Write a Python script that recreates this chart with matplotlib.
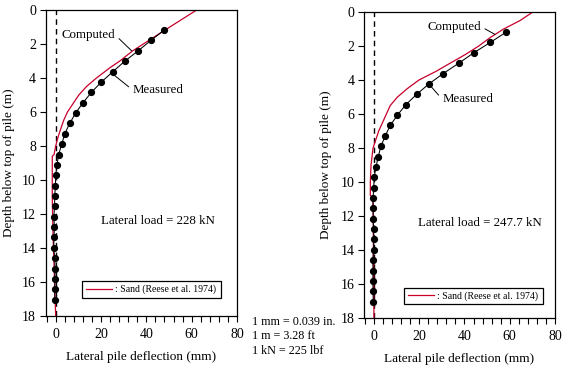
import matplotlib
matplotlib.use("Agg")
import matplotlib.pyplot as plt
from matplotlib.lines import Line2D
from matplotlib.ticker import MultipleLocator

plt.rcParams['font.family'] = ['Liberation Serif', 'DejaVu Serif']

# ---------------- data ----------------
depth_meas = [1.18, 1.79, 2.40, 3.01, 3.62, 4.23, 4.84, 5.45, 6.06, 6.67, 7.28, 7.89, 8.50,
              9.11, 9.72, 10.33, 10.94, 11.55, 12.16, 12.77, 13.38, 13.99, 14.60, 15.21,
              15.82, 16.43, 17.04]
meas_left = [47.9, 42.0, 36.4, 30.5, 25.3, 20.2, 15.8, 12.1, 8.8, 6.2, 4.0, 2.7, 1.3, 0.6,
             0.0, -0.1, -0.4, -0.5, -0.8, -0.6, -0.7, -0.9, -0.4, -0.3, -0.3, -0.4, -0.4]
meas_right = [58.5, 51.4, 44.1, 37.5, 30.6, 24.3, 18.9, 14.1, 10.4, 7.2, 5.0, 3.1, 1.9, 0.9,
              0.1, -0.1, -0.4, -0.4, -0.3, -0.2, 0.0, -0.2, -0.5, -0.4, -0.5, -0.4, -0.3]

depth_comp_left = [0, 1.2, 2.4, 3.0, 3.4, 4.0, 4.5, 5.0, 5.5, 6.0, 6.5, 7.0, 7.5, 8.0, 8.5,
                   8.6, 11.0, 13.0, 15.5, 18.0]
comp_left = [62.2, 48.0, 34.0, 28.3, 23.9, 18.0, 13.6, 10.2, 7.7, 5.2, 3.5, 2.2, 1.0, 0.0,
             -0.7, -1.5, -1.5, -1.2, -0.6, 0.0]
depth_comp_right = [0, 0.5, 1.0, 1.5, 2.0, 2.5, 3.0, 3.5, 4.0, 4.5, 5.0, 5.5, 6.0, 7.0, 8.0,
                    9.0, 10.0, 10.8, 10.9, 18.0]
comp_right = [70.2, 64.6, 57.3, 51.4, 46.3, 40.4, 33.8, 27.3, 19.9, 14.8, 10.4, 7.2, 5.5, 2.1,
              -0.4, -1.3, -1.6, -1.6, -0.4, 0.0]

load_labels = ["Lateral load = 228 kN", "Lateral load = 247.7 kN"]
legend_label = ": Sand (Reese et al. 1974)"
xlabel = "Lateral pile deflection (mm)"
ylabel = "Depth below top of pile (m)"
units_text = ["1 mm = 0.039 in.", "1 m = 3.28 ft", "1 kN = 225 lbf"]

RED = '#c8002a'
W, H = 569, 372

fig = plt.figure(figsize=(W / 100, H / 100), dpi=100)


def fx(px):
    return px / W


def fy(py):
    return 1 - py / H


def make_axes(x0, x1, y0, y1):
    return fig.add_axes([fx(x0), fy(y1), fx(x1) - fx(x0), fy(y0) - fy(y1)])


axL = make_axes(45.7, 237, 10, 316)
axR = make_axes(364, 555, 12, 318)

panels = [
    (axL, meas_left, depth_comp_left, comp_left, load_labels[0],
     dict(comp_text=(2.6, 1.47), comp_xy=(33.5, 2.4),
          meas_text=(33.9, 4.7), meas_xy=(26.0, 3.85),
          load_xy=(45.0, 12.4), leg=(0.191, 0.06, 0.724, 0.06))),
    (axR, meas_right, depth_comp_right, comp_right, load_labels[1],
     dict(comp_text=(23.6, 0.86), comp_xy=(53.5, 1.32),
          meas_text=(30.2, 5.14), meas_xy=(24.3, 4.24),
          load_xy=(47.0, 12.4), leg=(0.21, 0.045, 0.726, 0.06))),
]

for ax, meas, dc, comp, load, p in panels:
    ax.set_xlim(-4.4, 80)
    ax.set_ylim(18, 0)
    ax.axvline(0, color='black', lw=1.0, ls=(0, (4, 3)), zorder=1)
    ax.plot(comp, dc, color=RED, lw=0.9, zorder=2)
    ax.plot(meas, depth_meas, color='black', lw=0.75, marker='o', ms=4.2,
            mfc='black', mec='black', zorder=3)

    ax.xaxis.set_major_locator(MultipleLocator(20))
    ax.xaxis.set_minor_locator(MultipleLocator(4))
    ax.yaxis.set_major_locator(MultipleLocator(2))
    ax.set_xticks([0, 20, 40, 60, 80])
    ax.tick_params(axis='both', which='both', direction='out', length=4, width=0.8,
                   colors='black', labelsize=10)
    ax.tick_params(axis='x', which='major', pad=5)
    ax.tick_params(axis='y', which='major', pad=3)
    for s in ax.spines.values():
        s.set_linewidth(0.9)
        s.set_color('black')
    ax.set_xlabel(xlabel, fontsize=9.5, labelpad=7)

    ax.annotate("Computed", xy=p['comp_xy'], xytext=p['comp_text'], fontsize=9.3,
                ha='left', va='center',
                arrowprops=dict(arrowstyle='-', lw=0.7, color='black',
                                relpos=(1.0, 0.5), shrinkA=1, shrinkB=0))
    ax.annotate("Measured", xy=p['meas_xy'], xytext=p['meas_text'], fontsize=9.3,
                ha='left', va='center',
                arrowprops=dict(arrowstyle='-', lw=0.7, color='black',
                                relpos=(0.0, 0.5), shrinkA=1, shrinkB=0))
    ax.text(p['load_xy'][0], p['load_xy'][1], load, fontsize=9.3, ha='center', va='center')

    leg = ax.legend(handles=[Line2D([], [], color=RED, lw=0.9)], labels=[legend_label],
                    loc='lower left', bbox_to_anchor=p['leg'], mode='expand',
                    fontsize=7, frameon=True, fancybox=False, edgecolor='black',
                    framealpha=1, borderpad=0.35, handlelength=2.7, handletextpad=0.3,
                    borderaxespad=0)
    leg.get_frame().set_linewidth(0.9)

fig.text(fx(9), fy(163), ylabel, rotation=90, ha='center', va='center', fontsize=9.5)
fig.text(fx(326), fy(165), ylabel, rotation=90, ha='center', va='center', fontsize=9.5)

for t, yc in zip(units_text, [321.7, 336.0, 350.7]):
    fig.text(fx(252), fy(yc), t, ha='left', va='center', fontsize=8.7)

fig.savefig("out.png", dpi=100)
